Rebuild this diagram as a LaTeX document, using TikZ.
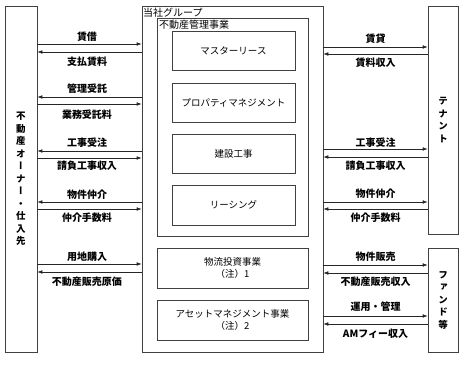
\documentclass[tikz,border=0pt]{standalone}
\usepackage{fontspec}
\setmainfont{Noto Sans CJK JP}
\newfontfamily\vjp[RawFeature=+vert]{Noto Sans CJK JP}
\usetikzlibrary{arrows.meta}

\begin{document}
\begin{tikzpicture}[x=1pt,y=-1pt,
    box/.style={draw=black!75, line width=0.6pt, inner sep=0pt, align=center, font=\fontsize{9.5}{12}\selectfont},
    vbox/.style={box, font=\vjp\bfseries\fontsize{9.5}{12.5}\selectfont},
    flow/.style={draw=black!85, line width=0.6pt, -{Latex[length=5pt,width=3.6pt]}},
    lbl/.style={font=\bfseries\fontsize{10}{11}\selectfont, inner sep=0pt}]
    \useasboundingbox (0,0) rectangle (464,365);
    \node[vbox, minimum width=32, minimum height=346] (owner) at (21,179) {不\\動\\産\\オ\\ー\\ナ\\ー\\・\\仕\\入\\先};
    \node[box, minimum width=181, minimum height=346] (group) at (232.5,179) {};
    \node[box, minimum width=151, minimum height=218] (mgmt) at (232.5,127) {};
    \node[box, minimum width=123, minimum height=39] (master) at (233.5,50.5) {マスターリース};
    \node[box, minimum width=123, minimum height=39] (pm) at (233.5,102.5) {プロパティマネジメント};
    \node[box, minimum width=123, minimum height=39] (const) at (233.5,153.5) {建設工事};
    \node[box, minimum width=123, minimum height=40] (leasing) at (233.5,205) {リーシング};
    \node[box, minimum width=151, minimum height=40] (logi) at (232.5,268) {物流投資事業\\（注）1};
    \node[box, minimum width=151, minimum height=40] (am) at (232.5,320) {アセットマネジメント事業\\（注）2};
    \node[vbox, minimum width=30, minimum height=228] (tenant) at (443,120) {テ\\ナ\\ン\\ト};
    \node[vbox, minimum width=30, minimum height=104] (fund) at (443,300) {フ\\ァ\\ン\\ド\\等};
    \node[anchor=west, inner sep=0pt, font=\fontsize{10}{12}\selectfont] (grouplbl) at (143,13) {当社グループ};
    \node[anchor=west, inner sep=0pt, font=\fontsize{10}{12}\selectfont] (mgmtlbl) at (159,25) {不動産管理事業};

    \foreach \y in {44,104,158,209,264}
        \draw[flow] (owner.east |- 0,\y) -- (group.west |- 0,\y);
    \foreach \y in {52,97,151,202,272}
        \draw[flow] (group.west |- 0,\y) -- (owner.east |- 0,\y);
    \foreach \y in {47,149,202}
        \draw[flow] (group.east |- 0,\y) -- (tenant.west |- 0,\y);
    \foreach \y in {54,157,209}
        \draw[flow] (tenant.west |- 0,\y) -- (group.east |- 0,\y);
    \foreach \y in {265,316}
        \draw[flow] (group.east |- 0,\y) -- (fund.west |- 0,\y);
    \foreach \y in {273,324}
        \draw[flow] (fund.west |- 0,\y) -- (group.east |- 0,\y);

    \foreach \y/\t [count=\i] in {37/賃借, 62/支払賃料, 89/管理受託, 115/業務受託料, 143/工事受注, 166/請負工事収入, 195/物件仲介, 218/仲介手数料, 257/用地購入, 282/不動産販売原価}
        \node[lbl] (ll\i) at (87,\y) {\t};
    \foreach \y/\t [count=\i] in {39/賃貸, 63/賃料収入, 143/工事受注, 166/請負工事収入, 194/物件仲介, 218/仲介手数料, 257/物件販売, 282/不動産販売収入, 307/運用・管理, 334/AMフィー収入}
        \node[lbl] (rl\i) at (375.5,\y) {\t};
\end{tikzpicture}
\end{document}
